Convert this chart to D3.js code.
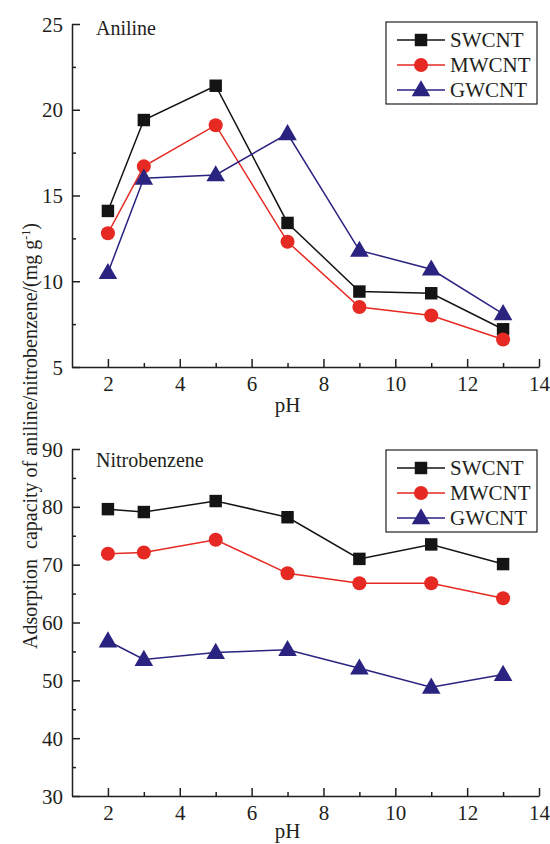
<!DOCTYPE html>
<html>
<head>
<meta charset="utf-8">
<script src="https://cdn.jsdelivr.net/npm/d3@7"></script>
<style>
  body { margin: 0; background: #fff; }
  svg text { font-family: "Liberation Serif", "DejaVu Serif", serif; fill: #231f20; }
</style>
</head>
<body>
<div id="chart"></div>
<script>
// pH values shared by both panels
const phValues = [2, 3, 5, 7, 9, 11, 13];
const seriesNames = ["SWCNT", "MWCNT", "GWCNT"];

// aniline adsorption (mg/g)
const anilineSW = [14.1, 19.4, 21.4, 13.4, 9.4, 9.3, 7.2];
const anilineMW = [12.8, 16.7, 19.1, 12.3, 8.5, 8.0, 6.6];
const anilineGW = [10.5, 16.0, 16.2, 18.6, 11.8, 10.7, 8.1];

// nitrobenzene adsorption (mg/g)
const nitroSW = [79.6, 79.1, 81.0, 78.2, 71.0, 73.5, 70.1];
const nitroMW = [71.9, 72.1, 74.3, 68.5, 66.8, 66.8, 64.2];
const nitroGW = [56.8, 53.6, 54.8, 55.3, 52.1, 48.8, 51.0];

const xTicks = [2, 4, 6, 8, 10, 12, 14];
const anilineTicks = [5, 10, 15, 20, 25];
const nitroTicks = [30, 40, 50, 60, 70, 80, 90];

const colors = ["#141414", "#e62922", "#2a2380"];
const shapes = [d3.symbolSquare, d3.symbolCircle, d3.symbolTriangle];
const sizes = [155, 155, 150];

const width = 550, height = 844;
const svg = d3.select("#chart").append("svg")
  .attr("width", width)
  .attr("height", height);

const left = 72, right = 539;
const x = d3.scaleLinear().domain([1, 14]).range([left, right]);

function drawPanel(opts) {
  const y = d3.scaleLinear().domain(opts.domain).range([opts.bottom, opts.top]);
  const g = svg.append("g");

  // minor ticks
  g.append("g")
    .attr("transform", `translate(0,${opts.bottom})`)
    .call(d3.axisBottom(x).tickValues([3, 5, 7, 9, 11, 13]).tickSize(-4).tickFormat(""))
    .call(a => a.select(".domain").remove());
  g.append("g")
    .attr("transform", `translate(${left},0)`)
    .call(d3.axisLeft(y).tickValues(opts.minor).tickSize(-4).tickFormat(""))
    .call(a => a.select(".domain").remove());

  g.append("g")
    .attr("transform", `translate(0,${opts.bottom})`)
    .call(d3.axisBottom(x).tickValues(xTicks).tickSizeInner(-8).tickSizeOuter(0).tickPadding(9));

  const ya = g.append("g")
    .attr("transform", `translate(${left},0)`)
    .call(d3.axisLeft(y).tickValues(opts.ticks).tickSizeInner(-8).tickSizeOuter(0).tickPadding(9));
  ya.selectAll("text").attr("dy", "0.34em");

  g.selectAll(".domain, .tick line").attr("stroke", "#231f20").attr("stroke-width", 1.5);
  g.selectAll(".tick text").style("font-size", "21px").style("font-family", "Liberation Serif");

  g.append("text")
    .attr("x", 96).attr("y", opts.labelY)
    .style("font-size", "20px")
    .text(opts.label);

  g.append("text")
    .attr("x", x(7)).attr("y", opts.bottom + opts.phGap)
    .attr("text-anchor", "middle")
    .style("font-size", "21px")
    .text("pH");

  const line = d3.line().x((d, i) => x(phValues[i])).y(d => y(d));

  opts.series.forEach((vals, k) => {
    g.append("path")
      .datum(vals)
      .attr("fill", "none")
      .attr("stroke", colors[k])
      .attr("stroke-width", 1.5)
      .attr("d", line);
  });
  opts.series.forEach((vals, k) => {
    g.selectAll(null)
      .data(vals)
      .enter()
      .append("path")
      .attr("transform", (d, i) => `translate(${x(phValues[i])},${y(d) + (k === 2 ? 1 : 0)})`)
      .attr("d", d3.symbol(shapes[k], sizes[k]))
      .attr("fill", colors[k]);
  });

  // legend
  const lg = g.append("g").attr("transform", `translate(386,${opts.legendTop})`);
  lg.append("rect")
    .attr("width", 151).attr("height", 82)
    .attr("fill", "#fff")
    .attr("stroke", "#231f20").attr("stroke-width", 1.2);
  const rows = [18, 43, 68];
  seriesNames.forEach((name, k) => {
    lg.append("line")
      .attr("x1", 11).attr("x2", 59)
      .attr("y1", rows[k]).attr("y2", rows[k])
      .attr("stroke", colors[k]).attr("stroke-width", 1.5);
    lg.append("path")
      .attr("transform", `translate(35,${rows[k] + (k === 2 ? 1 : 0)})`)
      .attr("d", d3.symbol(shapes[k], sizes[k]))
      .attr("fill", colors[k]);
    lg.append("text")
      .attr("x", 64).attr("y", rows[k])
      .attr("dy", "0.35em")
      .style("font-size", "21px")
      .text(name);
  });
}

drawPanel({
  domain: [5, 25], top: 24, bottom: 367,
  ticks: anilineTicks, minor: [7.5, 12.5, 17.5, 22.5],
  label: "Aniline", labelY: 35, legendTop: 22, phGap: 45,
  series: [anilineSW, anilineMW, anilineGW]
});

drawPanel({
  domain: [30, 90], top: 449, bottom: 796,
  ticks: nitroTicks, minor: [35, 45, 55, 65, 75, 85],
  label: "Nitrobenzene", labelY: 467, legendTop: 450, phGap: 42,
  series: [nitroSW, nitroMW, nitroGW]
});

// shared y-axis title
const yt = svg.append("text")
  .attr("transform", "translate(37,436) rotate(-90)")
  .attr("text-anchor", "middle")
  .style("font-size", "20px")
  .attr("xml:space", "preserve");
yt.append("tspan").text("Adsorption  capacity of aniline/nitrobenzene/(mg g");
yt.append("tspan").attr("dy", -7).style("font-size", "12px").text("-1");
yt.append("tspan").attr("dy", 7).text(")");
</script>
</body>
</html>
